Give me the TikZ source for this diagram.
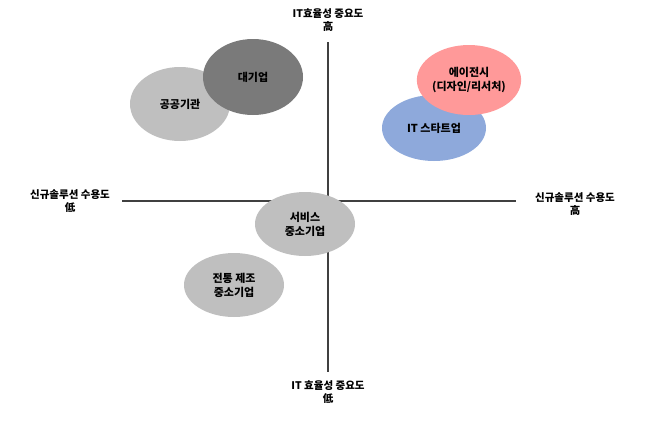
\documentclass[tikz,border=0pt]{standalone}
\usepackage{fontspec}
\setmainfont{Noto Sans CJK KR}
\usetikzlibrary{shapes.geometric}
\definecolor{startupblue}{RGB}{142,169,219}
\definecolor{agencypink}{RGB}{255,153,153}
\tikzset{
  blob/.style = {ellipse, minimum width = 100pt, minimum height = 74pt, inner sep = 0pt, align = center, font = \bfseries\fontsize{11}{14}\selectfont},
  axislabel/.style = {align = center, font = \bfseries\fontsize{10.5}{12.5}\selectfont}
}
\begin{document}
\begin{tikzpicture}[x = 1pt, y = -1pt]
				\useasboundingbox (0, 0) rectangle (658, 421);
				% axes
				\coordinate (top) at (328, 42);
				\coordinate (bottom) at (328, 372);
				\coordinate (left) at (122, 201);
				\coordinate (right) at (516, 201);
				\draw[line width = 2.5pt, black!75] (top) -- (bottom);
				\draw[line width = 2.5pt, black!75] (left) -- (right);
				
				\node[axislabel] (toplab) at (328, 20) {IT효율성 중요도\\高};
				\node[axislabel] (botlab) at (328, 392) {IT 효율성 중요도\\低};
				\node[axislabel] (leftlab) at (70, 201) {신규솔루션 수용도\\低};
				\node[axislabel] (rightlab) at (575, 204) {신규솔루션 수용도\\高};
				
				% groups
				\node[blob, fill = black!25] (public) at (180, 104) {공공기관};
				\node[blob, fill = black!52, minimum height = 76pt] (large) at (253, 77) {대기업};
				\node[blob, fill = startupblue, minimum width = 104pt, minimum height = 66pt] (startup) at (434, 128) {IT 스타트업};
				\node[blob, fill = agencypink, minimum height = 70pt] (agency) at (469, 80) {에이전시\\(디자인/리서처)};
				\node[blob, fill = black!25, minimum height = 64pt] (service) at (305, 224) {서비스\\중소기업};
				\node[blob, fill = black!25, minimum height = 64pt] (maker) at (234, 285) {전통 제조\\중소기업};
\end{tikzpicture}
\end{document}
